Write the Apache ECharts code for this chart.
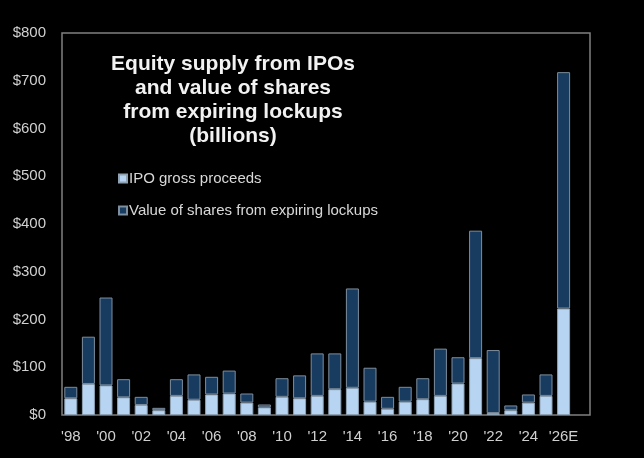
<!DOCTYPE html>
<html><head><meta charset="utf-8">
<script src="https://cdn.jsdelivr.net/npm/echarts@6/dist/echarts.min.js"></script>
<style>html,body{margin:0;padding:0;background:#000;}#c{width:644px;height:458px;}</style>
</head><body><div id="c"></div>
<script>
const categories = ["'98","'99","'00","'01","'02","'03","'04","'05","'06","'07","'08","'09","'10","'11","'12","'13","'14","'15","'16","'17","'18","'19","'20","'21","'22","'23","'24","'25","'26E",""];
const ipoProceeds = [35,65,62,37,21,10,40,32,43,45,26,16,38,35,40,54,57,28,13,28,33,40,66,119,4,10,26,40,223,null];
const totalSupply = [59,164,246,75,38,15,75,85,80,93,45,22,77,83,129,129,265,99,38,59,77,139,121,386,136,20,43,85,718,null];
const lockupValue = totalSupply.map((t,i)=> t==null?null:t-ipoProceeds[i]);
const yTicks = [0,100,200,300,400,500,600,700,800];

const chart = echarts.init(document.getElementById('c'));
chart.setOption({
  backgroundColor:'#000',
  animation:false,
  textStyle:{fontFamily:'Liberation Sans, Arial, sans-serif'},
  grid:{left:62,right:54,top:33,bottom:43,show:true,borderColor:'#808080',borderWidth:1.5,backgroundColor:'transparent'},
  graphic:[{type:'text',x:233,y:52,style:{text:'Equity supply from IPOs\nand value of shares\nfrom expiring lockups\n(billions)',fill:'#f2f2f2',font:'bold 21px "Liberation Sans", Arial, sans-serif',textAlign:'center',lineHeight:24}}],
  legend:{orient:'vertical',left:113,top:166,itemGap:17,itemWidth:8,itemHeight:8,icon:'rect',
    textStyle:{color:'#d8d8d8',fontSize:15,padding:[0,0,0,-3]},
    data:['IPO gross proceeds','Value of shares from expiring lockups']},
  xAxis:{type:'category',data:categories,axisTick:{show:false},axisLine:{show:false},
    axisLabel:{color:'#d0d0d0',fontSize:15,interval:1,margin:14}},
  yAxis:{type:'value',min:yTicks[0],max:yTicks[yTicks.length-1],interval:100,splitLine:{show:false},axisLine:{show:false},axisTick:{show:false},
    axisLabel:{color:'#d0d0d0',fontSize:15,margin:16,formatter:v=>'$'+v}},
  series:[
    {name:'IPO gross proceeds',type:'bar',stack:'s',data:ipoProceeds,barWidth:13,
      itemStyle:{color:'#b7d5f2',borderColor:'#8fa3b5',borderWidth:1}},
    {name:'Value of shares from expiring lockups',type:'bar',stack:'s',data:lockupValue,barWidth:13,
      itemStyle:{color:'#183b60',borderColor:'#7d8e9e',borderWidth:1}}
  ]
});
</script></body></html>
